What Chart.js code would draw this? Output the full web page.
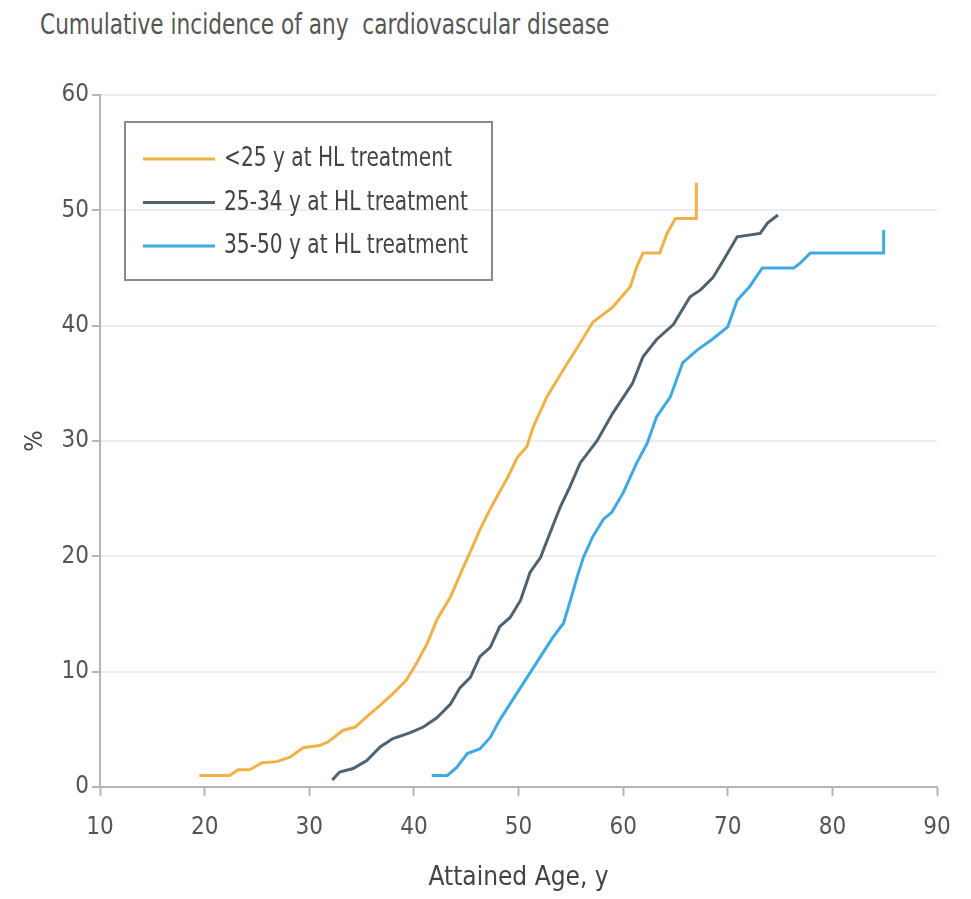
<!DOCTYPE html>
<html>
<head>
<meta charset="utf-8">
<script src="https://cdn.jsdelivr.net/npm/chart.js@4"></script>
<style>
    html, body { margin: 0; padding: 0; background: #fff; }
    #wrap { position: relative; width: 971px; height: 899px; }
    #title {
        position: absolute; left: 40px; top: 7px;
        font-family: 'Liberation Sans Narrow', 'DejaVu Sans Condensed', sans-serif;
        font-size: 29px; color: #555; white-space: pre;
        transform: scaleX(0.83); transform-origin: left top;
    }
    canvas { position: absolute; left: 0; top: 0; }
</style>
</head>
<body>
<div id="wrap">
    <div id="title">Cumulative incidence of any  cardiovascular disease</div>
    <canvas id="cvdChart" width="971" height="899"></canvas>
</div>
<script>
// Series labels and colours
const seriesLabels = ['<25 y at HL treatment', '25-34 y at HL treatment', '35-50 y at HL treatment'];
const seriesColors = ['#f0b247', '#4f6270', '#3fa9e2'];

// <25 y at HL treatment
const ageLt25 = [19.5, 22.4, 23.2, 24.3, 25.5, 26.9, 28.2, 29.4, 31.0, 31.8, 33.2, 34.4, 35.5, 36.8, 38.0, 39.3, 40.3, 41.3, 42.2, 43.5, 44.7, 45.4, 46.3, 47.3, 48.2, 49.0, 49.9, 50.8, 51.4, 52.7, 54.3, 55.9, 57.1, 59.0, 60.7, 61.3, 61.9, 63.5, 64.2, 65.0, 67.0, 67.0];
const incLt25 = [1.0, 1.0, 1.5, 1.5, 2.1, 2.2, 2.6, 3.4, 3.6, 3.9, 4.9, 5.2, 6.1, 7.1, 8.1, 9.3, 10.8, 12.5, 14.5, 16.5, 19.0, 20.4, 22.3, 24.1, 25.6, 26.9, 28.6, 29.5, 31.2, 33.8, 36.2, 38.5, 40.3, 41.6, 43.4, 45.1, 46.3, 46.3, 48.0, 49.3, 49.3, 52.4];

// 25-34 y at HL treatment
const age25to34 = [32.2, 32.9, 34.2, 35.5, 36.8, 38.0, 39.6, 40.9, 42.2, 43.5, 44.4, 45.4, 46.3, 47.3, 48.2, 49.2, 50.2, 51.1, 52.1, 53.0, 54.0, 54.9, 55.9, 57.5, 59.0, 60.9, 61.9, 63.2, 64.8, 66.4, 67.4, 68.6, 69.6, 70.9, 73.1, 73.8, 74.8];
const inc25to34 = [0.6, 1.3, 1.6, 2.3, 3.5, 4.2, 4.7, 5.2, 6.0, 7.2, 8.6, 9.5, 11.3, 12.1, 13.9, 14.7, 16.2, 18.6, 19.9, 22.0, 24.3, 26.0, 28.1, 30.0, 32.4, 35.0, 37.3, 38.8, 40.1, 42.5, 43.1, 44.2, 45.7, 47.7, 48.0, 48.9, 49.6];

// 35-50 y at HL treatment
const age35to50 = [41.7, 43.2, 44.1, 45.1, 46.3, 47.3, 48.2, 49.9, 51.1, 52.1, 53.3, 54.3, 54.9, 55.6, 56.2, 57.1, 58.1, 58.9, 60.0, 61.3, 62.3, 63.2, 64.5, 65.7, 67.1, 68.5, 70.0, 70.9, 72.1, 73.3, 76.3, 76.9, 77.9, 84.9, 84.9];
const inc35to50 = [1.0, 1.0, 1.7, 2.9, 3.3, 4.3, 5.8, 8.2, 9.9, 11.3, 13.0, 14.2, 16.0, 18.2, 19.9, 21.7, 23.2, 23.8, 25.5, 28.1, 29.8, 32.1, 33.8, 36.8, 37.9, 38.8, 39.9, 42.2, 43.4, 45.0, 45.0, 45.4, 46.3, 46.3, 48.3];

// Tick labels
const xTicks = [10, 20, 30, 40, 50, 60, 70, 80, 90];
const yTicks = [0, 10, 20, 30, 40, 50, 60];

const narrowFont = "'Liberation Sans Narrow', 'DejaVu Sans Condensed', sans-serif";

function toPoints(ages, values) {
    return ages.map((a, i) => ({ x: a, y: values[i] }));
}

// Legend box drawn inside the plot area
const insideLegend = {
    id: 'insideLegend',
    afterDraw(chart) {
        const ctx = chart.ctx;
        const area = chart.chartArea;
        const boxX = area.left + 25, boxY = area.top + 27;
        const boxW = 367, boxH = 158;
        ctx.save();
        ctx.strokeStyle = '#8a8a8a';
        ctx.lineWidth = 2;
        ctx.strokeRect(boxX, boxY, boxW, boxH);
        chart.data.datasets.forEach((ds, i) => {
            const rowY = boxY + 37 + i * 43.5;
            ctx.strokeStyle = ds.borderColor;
            ctx.lineWidth = 3;
            ctx.beginPath();
            ctx.moveTo(boxX + 18, rowY);
            ctx.lineTo(boxX + 90, rowY);
            ctx.stroke();
            // condensed text: squeeze horizontally
            ctx.save();
            ctx.translate(boxX + 99, rowY);
            ctx.scale(0.83, 1);
            ctx.font = '27px ' + narrowFont;
            ctx.textBaseline = 'middle';
            ctx.fillStyle = '#444';
            ctx.fillText(ds.label, 0, 0);
            ctx.restore();
        });
        ctx.restore();
    }
};

const ctx = document.getElementById('cvdChart').getContext('2d');
new Chart(ctx, {
    type: 'line',
    data: {
        datasets: [
            { label: seriesLabels[0], data: toPoints(ageLt25, incLt25), borderColor: seriesColors[0] },
            { label: seriesLabels[1], data: toPoints(age25to34, inc25to34), borderColor: seriesColors[1] },
            { label: seriesLabels[2], data: toPoints(age35to50, inc35to50), borderColor: seriesColors[2] }
        ]
    },
    options: {
        responsive: false,
        animation: false,
        layout: { padding: { left: 18, top: 95, right: 34, bottom: 0 } },
        elements: {
            line: { borderWidth: 3, tension: 0 },
            point: { radius: 0 }
        },
        plugins: {
            legend: { display: false },
            tooltip: { enabled: false }
        },
        scales: {
            x: {
                type: 'linear',
                min: 10,
                max: 90,
                afterBuildTicks: scale => { scale.ticks = xTicks.map(v => ({ value: v })); },
                afterFit: scale => { scale.height = 112; },
                grid: { drawOnChartArea: false, tickLength: 9, tickColor: '#b5b5b5', tickWidth: 2 },
                border: { color: '#b5b5b5', width: 2 },
                ticks: { color: '#555', padding: 17, font: { family: narrowFont, size: 24 } },
                title: {
                    display: true,
                    text: 'Attained Age, y',
                    color: '#444',
                    padding: { top: 0, bottom: 5 },
                    font: { family: narrowFont, size: 26 }
                }
            },
            y: {
                min: 0,
                max: 60,
                afterBuildTicks: scale => { scale.ticks = yTicks.map(v => ({ value: v })); },
                afterFit: scale => { scale.width = 82; },
                grid: { color: '#ececec', lineWidth: 2, tickLength: 8, tickColor: '#b5b5b5', tickWidth: 2 },
                border: { color: '#b5b5b5', width: 2 },
                ticks: { color: '#555', padding: 3, font: { family: narrowFont, size: 24 } },
                title: {
                    display: true,
                    text: '%',
                    color: '#444',
                    padding: { top: 2, bottom: 0 },
                    font: { family: narrowFont, size: 25 }
                }
            }
        }
    },
    plugins: [insideLegend]
});
</script>
</body>
</html>
